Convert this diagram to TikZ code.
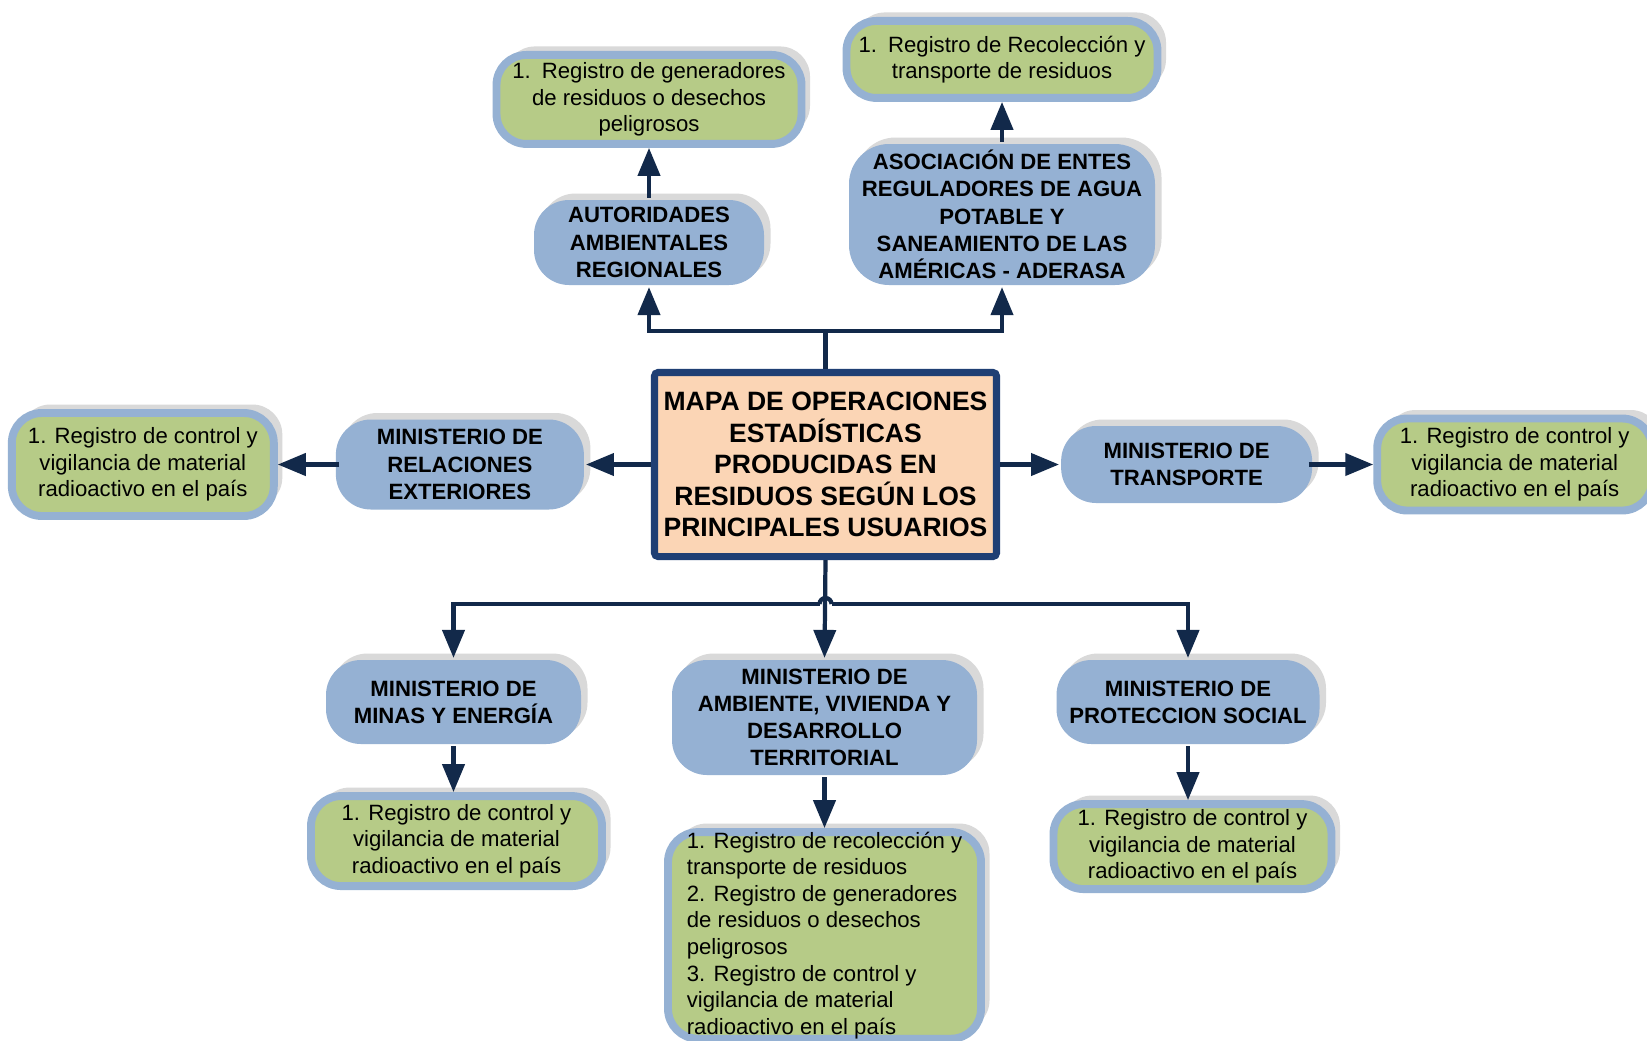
\documentclass[tikz,border=0pt]{standalone}
\usepackage{fontspec}
\setmainfont{Liberation Sans}
\usetikzlibrary{positioning}
\usetikzlibrary{arrows.meta}
\usetikzlibrary{shadows}
\definecolor{linenavy}{RGB}{18,41,74}
\definecolor{mapborder}{RGB}{31,63,116}
\definecolor{mapfill}{RGB}{251,213,181}
\definecolor{userblue}{RGB}{149,177,211}
\definecolor{recordgreen}{RGB}{182,203,135}
\definecolor{shadowgray}{RGB}{217,217,217}

\begin{document}
\begin{tikzpicture}[line width=2.4pt, align=center, >={Triangle[length=0.56cm, width=0.44cm]},
    user/.style={fill=userblue, rounded corners=0.7cm, inner sep=2pt,
        font=\fontsize{12.6}{15.5}\selectfont\bfseries,
        drop shadow={shadow xshift=0.13cm, shadow yshift=0.13cm, fill=shadowgray, opacity=1}},
    record/.style={fill=recordgreen, draw=userblue, line width=4.5pt, rounded corners=0.6cm, inner sep=2pt,
        font=\fontsize{12.6}{15.1}\selectfont,
        drop shadow={shadow xshift=0.17cm, shadow yshift=0.17cm, fill=shadowgray, opacity=1}}]

\path[use as bounding box, fill=white] (0,0) rectangle (32.94,-20.8);

\draw
    (16.51,-9.29) node [name=mapa, draw=mapborder, fill=mapfill, line width=4pt, rounded corners=2pt,
        minimum width=6.84cm, minimum height=3.68cm, font=\fontsize{15.1}{18}\selectfont\bfseries]
        {MAPA DE OPERACIONES\\ESTADÍSTICAS\\PRODUCIDAS EN\\RESIDUOS SEGÚN LOS\\PRINCIPALES USUARIOS}

    (12.98,-4.85) node [user, name=autoridades, minimum width=4.6cm, minimum height=1.7cm]
        {AUTORIDADES\\AMBIENTALES\\REGIONALES}
    (20.04,-4.29) node [user, name=aderasa, minimum width=6.12cm, minimum height=2.82cm, rounded corners=0.8cm]
        {ASOCIACIÓN DE ENTES\\REGULADORES DE AGUA\\POTABLE Y\\SANEAMIENTO DE LAS\\AMÉRICAS - ADERASA}
    node [user, left=1.3cm of mapa, name=relaciones, minimum width=4.96cm, minimum height=1.8cm]
        {MINISTERIO DE\\RELACIONES\\EXTERIORES}
    node [user, right=1.18cm of mapa, name=transporte, minimum width=5.02cm, minimum height=1.54cm]
        {MINISTERIO DE\\TRANSPORTE}
    (9.07,-14.04) node [user, name=minas, minimum width=5.1cm, minimum height=1.68cm]
        {MINISTERIO DE\\MINAS Y ENERGÍA}
    (16.49,-14.35) node [user, name=ambiente, minimum width=6.1cm, minimum height=2.3cm]
        {MINISTERIO DE\\AMBIENTE, VIVIENDA Y\\DESARROLLO\\TERRITORIAL}
    (23.76,-14.04) node [user, name=proteccion, minimum width=5.26cm, minimum height=1.68cm]
        {MINISTERIO DE\\PROTECCION SOCIAL}
;

\draw
    node [record, above=1.0cm of autoridades, name=generadores record, minimum width=6.1cm, minimum height=1.78cm]
        {1.\enspace Registro de generadores\\de residuos o desechos\\peligrosos}
    node [record, above=0.8cm of aderasa, name=recoleccion record, minimum width=6.22cm, minimum height=1.54cm]
        {1.\enspace Registro de Recolección y\\transporte de residuos}
    node [record, left=1.12cm of relaciones, name=relaciones record, minimum width=5.24cm, minimum height=2.06cm]
        {1. Registro de control y\\vigilancia de material\\radioactivo en el país}
    node [record, right=1.18cm of transporte, name=transporte record, minimum width=5.5cm, minimum height=1.84cm]
        {1. Registro de control y\\vigilancia de material\\radioactivo en el país}
    node [record, below=0.92cm of minas, xshift=0.06cm, name=minas record, minimum width=5.82cm, minimum height=1.8cm]
        {1. Registro de control y\\vigilancia de material\\radioactivo en el país}
    node [record, below=1.02cm of ambiente, name=ambiente record, minimum width=6.26cm, minimum height=4.08cm,
        align=left, inner ysep=0pt]
        {1. Registro de recolección y\\transporte de residuos\\2. Registro de generadores\\de residuos o desechos\\peligrosos\\3. Registro de control y\\vigilancia de material\\radioactivo en el país}
    node [record, below=1.08cm of proteccion, xshift=0.09cm, name=proteccion record, minimum width=5.56cm, minimum height=1.7cm]
        {1. Registro de control y\\vigilancia de material\\radioactivo en el país}
;

\coordinate (top level) at (0,-6.62);
\coordinate (bottom level) at (0,-12.08);
\coordinate (hop) at (mapa.south |- bottom level);

%% upper branch
\draw[->, linenavy] (mapa.north) -- (mapa.north |- top level) -| (autoridades.south);
\draw[->, linenavy] (mapa.north |- top level) -| (aderasa.south);
\draw[->, linenavy] (autoridades.north) -- (generadores record.south);
\draw[->, linenavy] (aderasa.north) -- (recoleccion record.south);

%% sides
\draw[->, linenavy] (mapa.west) -- (relaciones.east);
\draw[->, linenavy, shorten <=-3pt] (relaciones.west) -- (relaciones record.east);
\draw[->, linenavy] (mapa.east) -- (transporte.west);
\draw[->, linenavy, shorten <=-3pt] (transporte.east) -- (transporte record.west);

%% lower branch
\draw[->, linenavy] (mapa.south) -- (ambiente.north);
\draw[->, linenavy] ([xshift=-0.12cm]hop) -| (minas.north);
\draw[->, linenavy] ([xshift=0.12cm]hop) -| (proteccion.north);
\draw[linenavy] ([xshift=-0.12cm]hop) arc[start angle=180, end angle=0, radius=0.12cm];
\draw[->, linenavy] (minas.south) -- (minas.south |- minas record.north);
\draw[->, linenavy] (ambiente.south) -- (ambiente record.north);
\draw[->, linenavy] (proteccion.south) -- (proteccion.south |- proteccion record.north);

\end{tikzpicture}
\end{document}
